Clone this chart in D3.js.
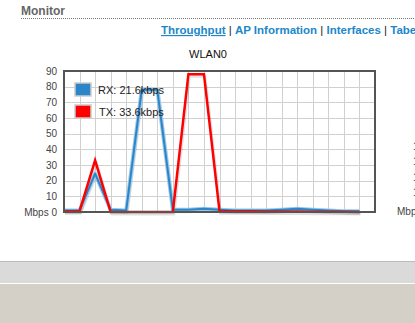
<!DOCTYPE html>
<meta charset="utf-8">
<style>
body { margin: 0; background: #fff; overflow: hidden; }
svg { display: block; }
text { font-family: 'Liberation Sans', Arial, sans-serif; }
</style>
<body>
<svg id="chart" width="415" height="323"></svg>
<script src="https://cdnjs.cloudflare.com/ajax/libs/d3/7.8.5/d3.min.js"></script>
<script>
// samples along the x axis (one per grid column)
var samples = d3.range(20);
var rxValues = [1, 1, 24.5, 1.5, 1, 78, 78, 1.5, 1.5, 2, 1.5, 1, 1, 1, 1.5, 2, 1.5, 1, 0.5, 0.5];
var txValues = [0.5, 0.5, 33, 0, 0, 0, 0, 0, 88, 88, 0.5, 0.5, 0.4, 0.3, 0.3, 0.3, 0.2, 0.2, 0.1, 0];
var yTicks = [0, 10, 20, 30, 40, 50, 60, 70, 80, 90];
var seriesNames = ["RX: 21.6kbps", "TX: 33.6kbps"];
var seriesColors = ["#2a86c8", "#ff0000"];
var links = ["Throughput", "AP Information", "Interfaces", "Tabe"];

var svg = d3.select("#chart");

// page header
svg.append("text").attr("x", 21).attr("y", 15)
  .attr("font-size", "12px").attr("font-weight", "bold").attr("fill", "#666")
  .text("Monitor");
svg.append("line").attr("x1", 21).attr("x2", 415).attr("y1", 18.5).attr("y2", 18.5)
  .attr("stroke", "#777").attr("stroke-dasharray", "1,1");

var nav = svg.append("text").attr("x", 161).attr("y", 34)
  .attr("font-size", "11.5px").attr("font-weight", "bold");
links.forEach(function(l, i) {
  if (i > 0) nav.append("tspan").attr("fill", "#222").attr("font-weight", "normal").text(" | ");
  nav.append("tspan").attr("fill", "#1c87c9")
    .attr("text-decoration", i == 0 ? "underline" : null).text(l);
});

// chart
var margin = {top: 71, left: 64},
    width = 311, height = 141;

var x = d3.scaleLinear().domain([0, 20]).range([0, width]);
var y = d3.scaleLinear().domain([0, 90]).range([height, 0]);

var g = svg.append("g").attr("transform", "translate(" + margin.left + "," + margin.top + ")");

svg.append("text").attr("x", 208).attr("y", 58).attr("text-anchor", "middle")
  .attr("font-size", "11px").attr("fill", "#111").text("WLAN0");

// grid
g.selectAll(".vgrid").data(d3.range(1, 20)).enter().append("line")
  .attr("x1", function(d) { return Math.round(x(d)) + 0.5; })
  .attr("x2", function(d) { return Math.round(x(d)) + 0.5; })
  .attr("y1", 0).attr("y2", height).attr("stroke", "#d0d0d0");
g.selectAll(".hgrid").data(yTicks.slice(1, -1)).enter().append("line")
  .attr("y1", function(d) { return Math.round(y(d)) + 0.5; })
  .attr("y2", function(d) { return Math.round(y(d)) + 0.5; })
  .attr("x1", 0).attr("x2", width).attr("stroke", "#d0d0d0");

// y axis labels
var yAxis = d3.axisLeft(y).tickValues(yTicks).tickSize(0).tickPadding(7)
  .tickFormat(function(d) { return d == 0 ? "Mbps 0" : d; });
g.append("g").call(yAxis)
  .call(function(s) { s.select(".domain").remove(); })
  .selectAll("text").attr("font-size", "10px").attr("fill", "#444")
  .attr("font-family", "'Liberation Sans', Arial, sans-serif");

var line = d3.line()
  .x(function(d, i) { return x(samples[i]); })
  .y(function(d) { return y(d); });

// soft shadows
[rxValues, txValues].forEach(function(vals) {
  g.append("path").datum(vals).attr("d", line)
    .attr("transform", "translate(1,2)")
    .attr("fill", "none").attr("stroke", "#000").attr("stroke-opacity", 0.12)
    .attr("stroke-width", 3).attr("stroke-linejoin", "round");
});
g.append("path").datum(rxValues).attr("d", line)
  .attr("fill", "none").attr("stroke", "#9cc8e8").attr("stroke-width", 4)
  .attr("stroke-linejoin", "round");
g.append("path").datum(rxValues).attr("d", line)
  .attr("fill", "none").attr("stroke", seriesColors[0]).attr("stroke-width", 2)
  .attr("stroke-linejoin", "round");
g.append("path").datum(txValues).attr("d", line)
  .attr("fill", "none").attr("stroke", seriesColors[1]).attr("stroke-width", 2.5)
  .attr("stroke-linejoin", "miter");

// frame
g.append("rect").attr("width", width).attr("height", height)
  .attr("fill", "none").attr("stroke", "#555").attr("stroke-width", 2);

// legend
var leg = g.selectAll(".leg").data(seriesNames).enter().append("g")
  .attr("transform", function(d, i) { return "translate(11," + (12 + i * 22) + ")"; });
leg.append("rect").attr("width", 16).attr("height", 13)
  .attr("fill", function(d, i) { return seriesColors[i]; })
  .attr("stroke", "#ccc").attr("stroke-width", 1.5);
leg.append("text").attr("x", function(d, i) { return 23 + i; }).attr("y", 11)
  .attr("font-size", "11px").attr("fill", "#222").text(function(d) { return d; });

// neighbouring chart's axis, cut off by the window
svg.append("text").attr("x", 397).attr("y", 215).attr("font-size", "10px")
  .attr("fill", "#444").text("Mbps 0");
[150, 165, 181, 196].forEach(function(yy) {
  svg.append("text").attr("x", 413).attr("y", yy).attr("font-size", "10px")
    .attr("fill", "#444").text("1");
});

// footer bands
svg.append("rect").attr("x", 0).attr("y", 261).attr("width", 415).attr("height", 22)
  .attr("fill", "#dadada");
svg.append("line").attr("x1", 0).attr("x2", 415).attr("y1", 261.5).attr("y2", 261.5)
  .attr("stroke", "#bbb");
svg.append("rect").attr("x", 0).attr("y", 284).attr("width", 415).attr("height", 39)
  .attr("fill", "#d4d0c8");
</script>
</body>
